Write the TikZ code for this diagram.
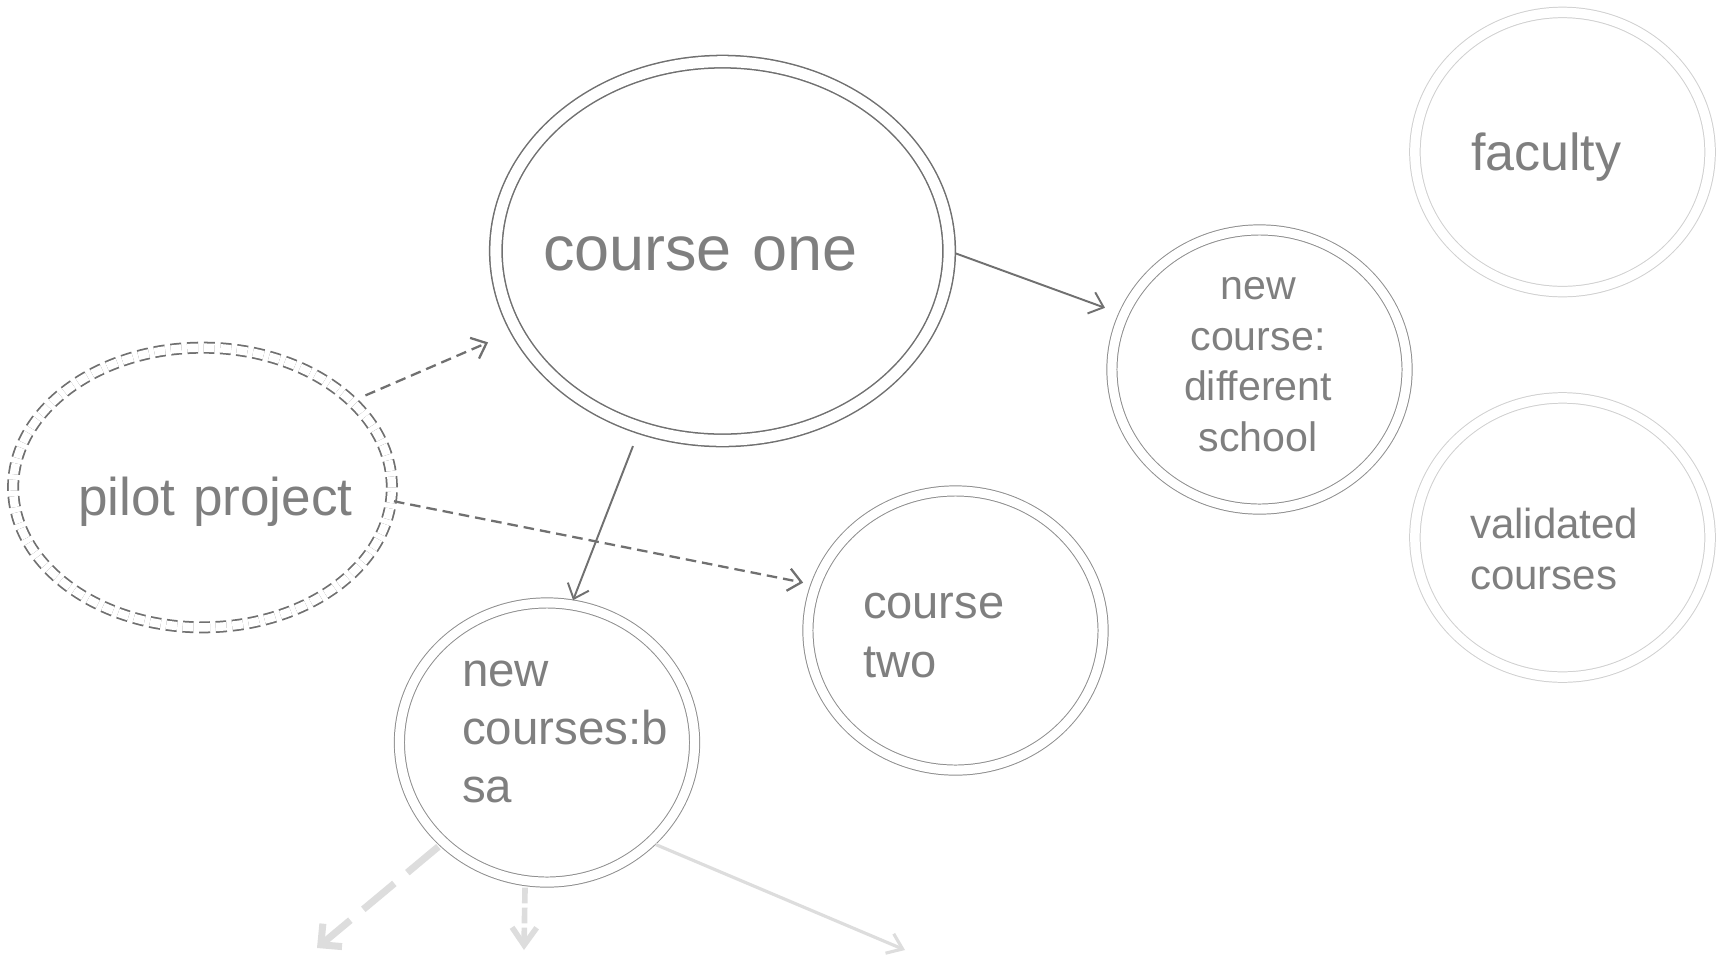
\documentclass[tikz,border=0pt]{standalone}
\usepackage{fontspec}
\setmainfont{Liberation Sans}
\usetikzlibrary{shapes.geometric,arrows.meta}

\definecolor{ink}{HTML}{7F7F7F}
\definecolor{edge}{HTML}{707070}
\definecolor{thinedge}{HTML}{8E8E8E}
\definecolor{faintedge}{HTML}{D0D0D0}
\definecolor{ghost}{HTML}{DDDDDD}

\begin{document}
\begin{tikzpicture}[x=0.01cm, y=-0.01cm,
  every node/.style={inner sep=0pt, outer sep=0pt},
  blob/.style={ellipse, minimum width=2.95cm, minimum height=2.79cm},
  bigring/.style={draw=edge, line width=0.43pt, double=white, double distance=3.1pt},
  dashring/.style={draw=edge, line width=0.5pt, double=white, double distance=2.4pt,
                   dash pattern=on 3.1pt off 1.6pt},
  thinring/.style={draw=thinedge, line width=0.28pt, double=white, double distance=2.6pt},
  faintring/.style={draw=faintedge, line width=0.28pt, double=white, double distance=2.7pt},
  lbl/.style={text=ink, align=left, text width=4cm},
  tip/.style={-{Straight Barb[length=3.7pt,width=6.4pt]}},
  link/.style={draw=edge, line width=0.55pt, tip},
  dashlink/.style={draw=edge, line width=0.65pt, tip, dash pattern=on 3pt off 1.7pt},
  ghostwide/.style={draw=ghost, line width=2pt, dash pattern=on 11.5pt off 4.8pt,
                    -{Straight Barb[length=4.3pt,width=8.5pt]}},
  ghostmid/.style={draw=ghost, line width=1.6pt, dash pattern=on 4.5pt off 1.2pt,
                   -{Straight Barb[length=5pt,width=7pt]}},
  ghostthin/.style={draw=ghost, line width=0.9pt,
                    -{Straight Barb[length=4pt,width=6pt]}}
]
  \useasboundingbox (0,0) rectangle (1723,960);

  % ellipses
  \node[blob, bigring, minimum width=4.53cm, minimum height=3.785cm] (one) at (722.5,251) {};
  \node[blob, dashring, minimum width=3.785cm, minimum height=2.795cm] (pilot) at (202.5,487.5) {};
  \node[blob, thinring] (newc) at (1259.5,369.5) {};
  \node[blob, thinring] (two) at (955.5,630.5) {};
  \node[blob, thinring] (bsa) at (547,742.5) {};
  \node[blob, faintring] (faculty) at (1562.5,152) {};
  \node[blob, faintring] (valid) at (1562.5,537.5) {};

  % labels
  \node[lbl, anchor=base west, font=\fontsize{17.9}{21.5}\selectfont] (one-t) at (543,270) {course one};
  \node[lbl, anchor=base west, font=\fontsize{15.1}{18}\selectfont] (pilot-t) at (78,515) {pilot project};
  \node[lbl, anchor=base, align=center, text width=3cm, font=\fontsize{11.7}{14.5}\selectfont] (newc-t) at (1258,299) {new\\course:\\different\\school};
  \node[lbl, anchor=base west, font=\fontsize{13.4}{16.8}\selectfont] (two-t) at (863,618) {course\\two};
  \node[lbl, anchor=base west, font=\fontsize{13.5}{16.5}\selectfont] (bsa-t) at (462,686) {new\\courses:b\\sa};
  \node[lbl, anchor=base west, font=\fontsize{14.8}{18}\selectfont] (faculty-t) at (1471,170) {faculty};
  \node[lbl, anchor=base west, font=\fontsize{11.95}{14.5}\selectfont] (valid-t) at (1470,538) {validated\\courses};

  % connectors
  \draw[dashlink, shorten <=0.15cm, shorten >=0.31cm] (pilot.30.5) -- (one.201.5);
  \draw[dashlink, shorten <=0.03cm, shorten >=0.13cm] (pilot.356.7) -- (two.162.7);
  \draw[link, shorten <=0.07cm, shorten >=0.20cm] (one.0.7) -- (newc.158.6);
  \draw[link, shorten <=0.20cm, shorten >=0.05cm] (one.245.7) -- (bsa.80.5);

  % faded outgoing connectors
  \coordinate (bsa-a) at (317,948);
  \coordinate (bsa-b) at (524,950);
  \coordinate (bsa-c) at (905,950);
  \draw[ghostwide, shorten <=0.07cm] (bsa.224.6) -- (bsa-a);
  \draw[ghostmid, shorten <=0.07cm] (bsa.261) -- (bsa-b);
  \draw[ghostthin, shorten <=0.06cm] (bsa.316.2) -- (bsa-c);
\end{tikzpicture}
\end{document}
